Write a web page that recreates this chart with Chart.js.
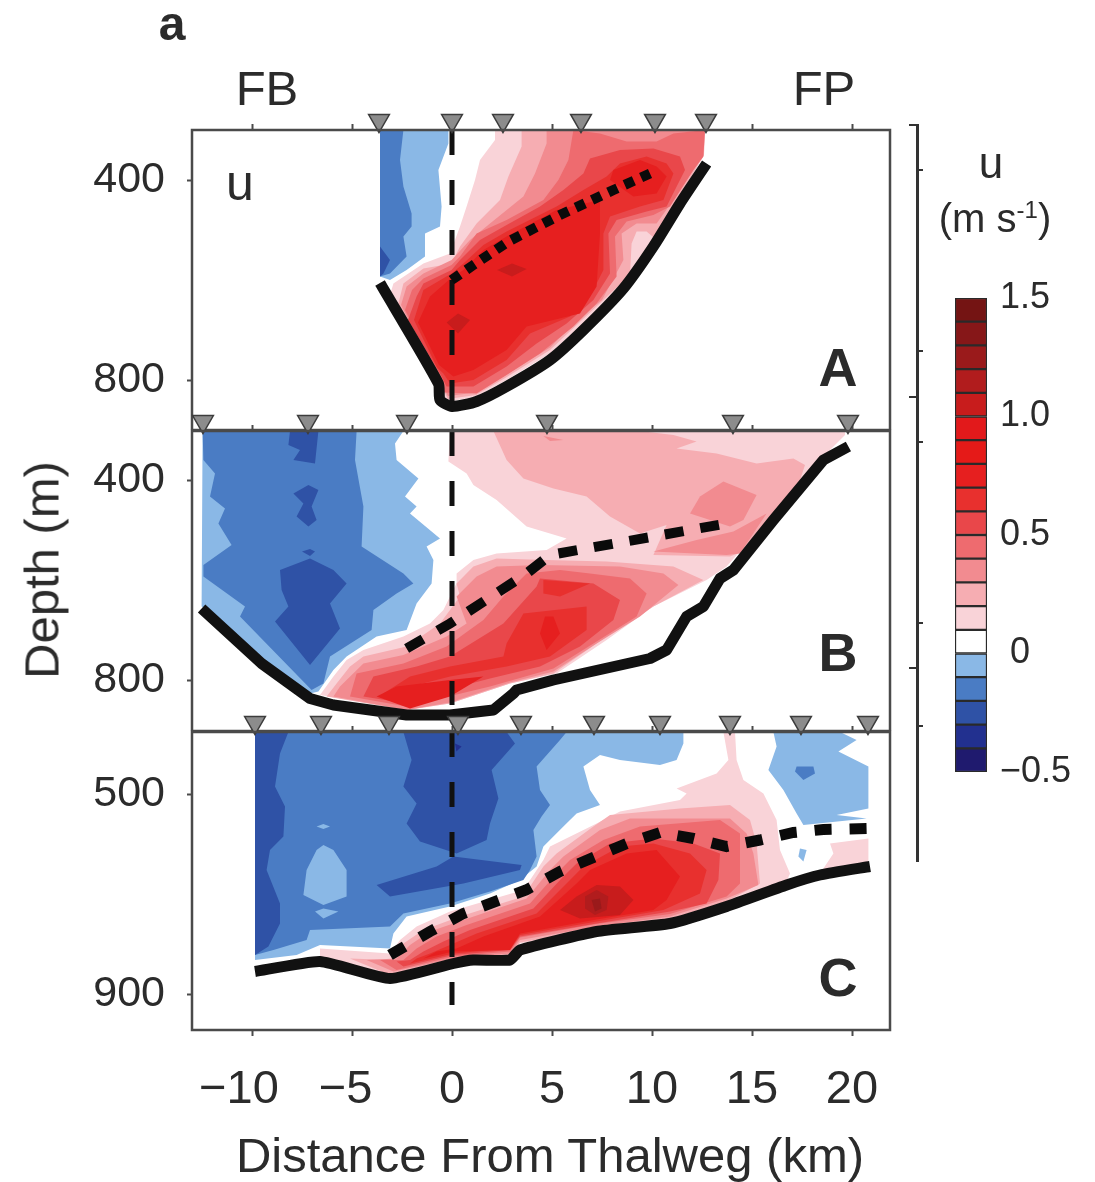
<!DOCTYPE html>
<html>
<head>
<meta charset="utf-8">
<script src="https://cdn.jsdelivr.net/npm/chart.js@4"></script>
<style>
html, body { margin: 0; background: #fff; }
#fig { position: relative; width: 1095px; height: 1182px; overflow: hidden; font-family: "Liberation Sans", sans-serif; color: #2b2b2b; filter: blur(0.7px); }
#fig canvas { position: absolute; }
.lbl { position: absolute; transform: translate(-50%, -50%); white-space: nowrap; line-height: 1; }
.seg { position: absolute; background: #333; }
sup { font-size: 60%; line-height: 0; }
</style>
</head>
<body>
<div id="fig">
  <canvas id="panelA"></canvas>
  <canvas id="panelB"></canvas>
  <canvas id="panelC"></canvas>
  <canvas id="colorbar"></canvas>
  <div class="lbl" style="left:172px;top:24px;font-size:48px;font-weight:bold">a</div>
  <div class="lbl" style="left:267px;top:88px;font-size:49px">FB</div>
  <div class="lbl" style="left:824px;top:88px;font-size:49px">FP</div>
  <div class="lbl" style="left:240px;top:183px;font-size:50px">u</div>
  <div class="lbl" style="left:838px;top:367px;font-size:54px;font-weight:bold">A</div>
  <div class="lbl" style="left:838px;top:652px;font-size:54px;font-weight:bold">B</div>
  <div class="lbl" style="left:838px;top:977px;font-size:54px;font-weight:bold">C</div>
  <div class="lbl" style="left:42px;top:570px;font-size:49px;transform:translate(-50%,-50%) rotate(-90deg)">Depth (m)</div>
  <div class="lbl" style="left:550px;top:1155px;font-size:49px">Distance From Thalweg (km)</div>
  <div class="lbl" style="left:991px;top:163px;font-size:44px">u</div>
  <div class="lbl" style="left:995px;top:218px;font-size:40px">(m s<sup>-1</sup>)</div>
</div>
<script>
// ========== axis ticks
const xTicks = [-10, -5, 0, 5, 10, 15, 20]
const depthTicksA = [400, 800]
const depthTicksB = [400, 800]
const depthTicksC = [500, 900]
const colorTicks = [-0.5, 0, 0.5, 1, 1.5]

// ========== colour levels, lower bound of each class
const levelBounds = [-0.5, -0.4, -0.3, -0.2, -0.1, 0, 0.1, 0.2, 0.3, 0.4, 0.5, 0.6, 0.7, 0.8, 0.9, 1.0, 1.1, 1.2, 1.3, 1.4]
const levelColors = ['#1f1a6e', '#22308f', '#2f52a6', '#4a7cc4', '#8ab8e6', '#ffffff', '#f9d3d8', '#f6adb2', '#f28b90', '#ee6b6f',
  '#e9474a', '#e8302e', '#e61f1f', '#e51a18', '#e2191b', '#c81c1c', '#b11c1d', '#9a1a1b', '#861718', '#741413']

// ========== stations (km)
const stationsA = [-3.65, 0, 2.55, 6.45, 10.15, 12.7]
const stationsB = [-12.45, -7.2, -2.25, 4.75, 14.05, 19.8]
const stationsC = [-9.85, -6.55, -3.15, 0.3, 3.45, 7.1, 10.4, 13.9, 17.45, 20.8]

// ========== bottom and core lines, [km, depth m]
const bottomA = [[-3.6,606],[-0.68,807],[-0.6,840],[0,853],[1.23,843],[2.73,813],[4.9,760],[6.57,700],[8.57,617],[10.07,533],[11.4,447],[12.73,367]]
const coreA = [[-0.02,600],[1.07,570],[2.82,523],[5.4,470],[8.07,420],[9.9,387]]
const bottomB = [[-12.52,657],[-9.52,767],[-7.1,837],[-5.93,850],[-2.27,870],[-0.1,870],[2.07,860],[3.07,827],[3.23,820],[5.07,800],[9.9,757],[10.73,740],[11.73,673],[12.57,653],[13.4,597],[14.07,580],[16.07,480],[18.57,360],[19.82,333]]
const coreB = [[-2.27,737],[-0.1,687],[3.73,587],[4.9,550],[13.73,487]]
const bottomC = [[-9.85,855],[-6.6,835],[-3.1,869],[0.07,839],[1.07,832],[2.9,832],[3.4,812],[7.23,775],[10.9,759],[13.73,725],[16.73,682],[18.4,662],[20.9,645]]
const coreC = [[-3.1,822],[-1.1,775],[0.57,739],[3.7,692],[5.4,655],[8.73,599],[10.4,577],[12.07,589],[13.73,605],[15.4,592],[17.07,577],[18.57,571],[20.73,569]]

// ========== panel A contours
const aBlue1 = [[-3.6,300],[-0.18,300],[-0.18,327],[-0.68,380],[-0.52,453],[-0.6,493],[-1.35,507],[-1.35,553],[-2.27,580],[-3.1,600],[-3.6,593]]
const aBlue2 = [[-3.6,300],[-2.43,300],[-2.6,360],[-2.43,413],[-2.02,467],[-2.02,493],[-2.43,513],[-2.27,553],[-3.1,587],[-3.6,593]]
const aBlue3 = [[-3.6,533],[-3.1,560],[-3.43,587],[-3.6,593]]
const aRed1 = [[2.15,300],[2.15,320],[1.4,360],[1.15,400],[0.73,453],[0.4,493],[-0.1,547],[-1.43,567],[-2.93,607],[-3.1,630],[-0.68,807],[-0.3,845],[0.3,840],[1.23,833],[2.73,800],[4.9,747],[6.57,687],[8.57,603],[10.07,520],[11.4,433],[12.57,353],[12.65,300]]
const aRed2 = [[3.48,300],[3.48,333],[2.82,393],[2.4,440],[1.23,487],[0.4,533],[-0.02,567],[-1.43,577],[-2.43,607],[-2.7,650],[-0.7,800],[-0.2,838],[1.2,830],[2.7,795],[4.9,740],[6.5,680],[8.9,590],[8.98,527],[9.23,503],[9.73,503],[10.23,520],[11.4,430],[12.6,350],[12.65,300]]
const aRed3 = [[4.73,300],[4.73,327],[4.15,387],[3.57,433],[1.9,487],[0.9,520],[-0.02,560],[-1.43,587],[-2.27,613],[-2.55,650],[-0.7,795],[-0.2,832],[1.2,825],[2.7,790],[4.9,735],[6.4,675],[7.5,640],[8.57,560],[8.48,507],[9.23,487],[10.23,487],[11.07,440],[12.4,360],[12.65,300]]
const aRed4 = [[6.07,300],[7.4,307],[8.73,323],[10.23,323],[11.07,307],[12.65,300],[12.57,353],[12.07,380],[10.9,453],[10.07,470],[8.73,483],[8.15,513],[8.23,593],[7.23,647],[6.07,693],[4.4,747],[2.73,790],[1.23,827],[-0.4,825],[-0.68,800],[-0.9,773],[-2.35,660],[-2,620],[-1.43,597],[-0.02,570],[0.4,553],[1.23,507],[2.73,480],[4.57,440],[5.32,400],[5.82,360]]
const aRed5 = [[11.4,353],[10.07,337],[8.4,340],[6.9,357],[6.57,387],[5.57,420],[4.4,453],[2.73,490],[1.4,520],[0.4,560],[-0.02,580],[-1.43,607],[-1.77,633],[-2.2,680],[-0.85,770],[-0.6,787],[-0.27,813],[1.07,813],[2.73,773],[4.23,727],[5.73,687],[7.07,640],[7.9,587],[7.82,507],[8.23,480],[9.73,463],[10.73,453],[11.65,380]]
const aRed6 = [[10.73,367],[9.73,353],[8.4,367],[7.73,393],[6.57,420],[5.23,453],[2.73,503],[1.57,530],[0.57,567],[-0.02,587],[-1.43,620],[-1.9,680],[-0.75,775],[-0.43,787],[-0.1,807],[1.07,800],[2.73,760],[3.9,707],[5.9,673],[6.9,633],[7.57,580],[7.57,507],[7.9,473],[9.4,453],[10.57,440],[11.07,387]]
const aRed7 = [[7.4,440],[5.23,460],[2.73,513],[1.57,540],[0.57,580],[-0.02,595],[-1.1,633],[-1.7,685],[-0.65,770],[0.07,793],[1.07,780],[2.73,740],[3.73,693],[6.4,667],[7.23,613],[7.4,507]]
const aRed7b = [[10.23,373],[9.4,360],[8.07,380],[7.9,400],[9.07,433],[10.23,427],[10.73,393]]
const aSpot1 = [[2.25,580],[3,567],[3.73,578],[3,593]]
const aSpot2 = [[-0.27,685],[0.3,667],[0.9,680],[0.3,707]]

// ========== panel B contours
const bBlue1 = [[-12.47,302],[-2.43,302],[-2.85,327],[-2.77,360],[-1.68,397],[-2.35,433],[-1.77,453],[-2.1,467],[-0.6,517],[-1.27,533],[-0.93,560],[-1.02,607],[-1.77,647],[-2.27,700],[-3.77,713],[-5.27,753],[-5.93,780],[-6.68,823],[-7.1,827],[-9.52,760],[-12.52,653]]
const bBlue2 = [[-12.47,302],[-4.77,302],[-4.85,360],[-4.43,453],[-4.52,533],[-2.43,587],[-1.93,607],[-2.77,627],[-3.93,660],[-4.02,700],[-6.1,753],[-6.43,807],[-7.02,820],[-10.6,673],[-10.35,653],[-12.43,593],[-12.43,570],[-11.02,530],[-11.68,487],[-11.35,457],[-12.1,433],[-11.85,387],[-12.43,360]]
const bBlue3a = [[-7.1,557],[-5.93,580],[-5.27,607],[-6.1,647],[-5.6,697],[-7.1,770],[-8.85,683],[-8.18,653],[-8.52,620],[-8.6,580]]
const bBlue3b = [[-7.18,410],[-6.68,420],[-7.02,453],[-6.77,480],[-7.18,493],[-7.77,473],[-7.43,447],[-7.93,427]]
const bBlue3c = [[-8.1,302],[-6.68,302],[-6.85,367],[-7.93,360],[-7.6,340],[-8.18,330]]
const bBlue3d = [[-7.5,543],[-7.1,538],[-6.85,543],[-7.1,552]]
const bRed1 = [[-0.1,302],[19.65,302],[19.65,310],[18.4,360],[16.07,467],[13.73,573],[12.73,600],[10.07,653],[7.73,720],[5.23,787],[2.9,807],[-0.1,847],[-2.27,860],[-6.6,830],[-5.93,793],[-5.27,760],[-4.43,740],[-2.43,713],[-1.1,687],[-0.43,660],[0.22,607],[0.23,587],[1.07,560],[2.23,547],[4.73,540],[5.73,517],[3.73,493],[2.23,440],[1.07,410],[0.73,387],[-0.18,363]]
const bRed2a = [[2.07,302],[9.4,302],[11.07,310],[12.23,323],[11.23,337],[13.23,347],[15.23,367],[17.07,357],[17.65,370],[17.4,400],[16.07,473],[14.73,540],[13.9,553],[10.07,550],[10.73,490],[9.4,507],[7.9,473],[6.73,433],[5.07,417],[3.57,397],[2.73,360]]
const bRed2b = [[4.73,560],[2.23,557],[1.07,573],[0.23,607],[0.4,633],[-0.6,687],[-2.27,733],[-4.43,753],[-5.1,773],[-5.77,807],[-6.27,833],[-2.27,860],[-0.1,847],[2.9,807],[5.07,787],[7.73,713],[10.07,653],[12.57,600],[11.07,573],[7.73,563]]
const bRed3a = [[13.57,403],[15.23,430],[14.57,480],[13.9,493],[11.9,467],[12.4,433]]
const bRed3b = [[10.07,543],[12.23,520],[14.07,503],[15.73,467],[14.4,547],[13.73,550]]
const bRed3c = [[4.57,312],[5.57,320],[4.9,322]]
const bRed3d = [[4.4,570],[2.23,573],[1.23,593],[0.23,633],[0.73,687],[-0.27,713],[-2.43,750],[-4.43,767],[-5.6,813],[-5.93,833],[-2.27,860],[-0.1,845],[2.9,805],[5.07,783],[7.23,727],[9.4,673],[11.32,610],[10.57,587],[8.4,573]]
const bRed4 = [[8.9,597],[9.73,627],[9.23,673],[7.07,727],[5.07,777],[1.9,813],[-0.6,837],[-2.27,853],[-5.1,833],[-4.77,787],[-2.43,767],[-0.27,733],[1.57,680],[2.57,633],[3.73,587],[5.4,580],[6.9,587]]
const bRed5 = [[4.4,597],[7.07,607],[8.4,640],[8.07,680],[6.4,733],[4.4,773],[1.9,797],[-0.6,823],[-2.27,847],[-4.43,833],[-3.93,793],[-1.77,773],[-0.1,753],[2.57,687],[4.23,613]]
const bRed6a = [[3.57,667],[6.73,653],[6.73,700],[4.9,753],[2.73,773],[-0.1,793],[-3.43,827],[-2.1,793],[-0.1,773],[2.57,753],[2.73,727]]
const bRed6b = [[4.57,600],[6.9,607],[5.4,633],[4.57,627]]
const bRed7a = [[-3.77,833],[-2.77,813],[-0.1,800],[1.57,793],[-0.1,833],[-2.1,857]]
const bRed7b = [[5.07,673],[5.4,707],[4.73,740],[4.4,707],[4.65,673]]

// ========== panel C contours
const cBlue1 = [[-9.85,376],[11.57,376],[11.57,399],[11.23,432],[10.4,442],[8.4,432],[7.4,422],[6.57,445],[6.9,492],[7.4,522],[6.23,539],[5.57,565],[4.57,605],[4.23,645],[3.4,672],[1.9,699],[-0.1,725],[-2.27,745],[-2.93,779],[-3.1,809],[-6.6,802],[-7.77,822],[-9.85,832]]
const cBlue1b = [[16.07,376],[19.4,376],[20.23,392],[19.32,415],[20.82,445],[20.82,529],[19.23,542],[20.73,549],[17.57,562],[17.23,539],[16.57,492],[15.82,452],[16.23,405]]
const cBlue1c = [[17.4,609],[17.73,612],[17.57,635],[17.32,625]]
const cBlue2 = [[-9.85,376],[5.73,376],[5.4,392],[4.23,445],[4.4,492],[4.9,522],[4.48,545],[4.07,572],[4.23,625],[3.9,652],[3.57,672],[1.9,695],[-0.1,719],[-2.43,739],[-3.1,765],[-7.1,772],[-7.27,792],[-8.93,812],[-9.85,822]]
const cBlue2b = [[17.23,445],[18.07,445],[18.15,459],[17.57,472],[17.15,455]]
const cLight1 = [[-6.43,602],[-5.93,612],[-5.27,652],[-5.27,705],[-6.43,722],[-7.43,702],[-7.27,652],[-6.77,612]]
const cLight2 = [[-6.77,565],[-6.43,560],[-6.1,565],[-6.43,570]]
const cLight3 = [[-6.85,735],[-6.43,729],[-5.68,735],[-6.43,749]]
const cBlue3a = [[-9.85,376],[-8.18,376],[-8.6,419],[-8.85,485],[-8.35,525],[-8.43,585],[-9.1,612],[-9.27,652],[-8.6,719],[-8.6,759],[-9.18,805],[-9.85,822]]
const cBlue3b = [[-2.43,376],[2.73,376],[3.15,399],[1.98,452],[2.32,509],[1.9,559],[1.73,592],[0.23,619],[-1.6,595],[-2.27,559],[-1.77,519],[-2.43,485],[-2.02,432]]
const cBlue3c = [[-3.77,682],[-0.77,645],[0.07,625],[3.48,642],[3.4,652],[0.57,679],[-3.1,705]]
const cBlue4 = [[0.15,399],[0.48,405],[0.22,415]]
const cRed1 = [[-6.6,809],[-3.1,819],[-2.6,792],[-1.77,765],[-0.1,735],[3.57,692],[4.57,632],[4.9,605],[7.23,559],[8.4,535],[11.4,512],[11.73,499],[11.23,489],[13.23,459],[13.82,432],[13.57,376],[14.15,376],[14.23,432],[14.57,472],[15.57,499],[16.23,552],[16.4,612],[16.9,659],[16.73,675],[13.73,719],[10.9,752],[7.23,772],[3.4,799],[2.9,825],[0.07,835],[-3.1,865],[-6.6,829]]
const cRed1b = [[18.9,599],[20.82,589],[20.82,639],[18.4,659],[19.07,619]]
const cRed2 = [[7.07,565],[7.9,542],[11.4,529],[13.9,522],[14.9,552],[15.23,599],[15.4,679],[13.73,715],[10.9,750],[7.23,770],[3.4,797],[2.9,823],[0.07,833],[-3.1,862],[-5.1,829],[-3.1,832],[-2.43,799],[-1.43,772],[0.4,745],[3.57,705],[4.57,645],[5.23,619]]
const cRed3 = [[7.4,572],[8.9,549],[13.9,549],[14.73,579],[15.07,619],[15.32,682],[13.73,709],[10.9,745],[7.23,765],[3.4,792],[2.9,819],[0.07,829],[-2.93,855],[-4.27,832],[-2.77,829],[-2.1,802],[-1.1,775],[0.57,752],[3.73,709],[4.9,652],[5.57,625]]
const cRed4 = [[9.4,565],[13.4,552],[14.4,579],[14.4,679],[13.73,705],[10.9,740],[7.23,760],[3.4,787],[2.9,815],[0.07,825],[-2.77,852],[-3.6,832],[-2.43,832],[-1.77,809],[-0.77,785],[0.73,762],[3.9,719],[5.23,659],[5.9,632],[7.57,592]]
const cRed5 = [[7.9,599],[10.07,589],[12.07,599],[13.4,619],[13.32,672],[12.73,719],[10.9,735],[7.23,759],[3.4,785],[2.9,812],[0.07,822],[-2.43,845],[-2.77,835],[-2.1,832],[-1.43,815],[-0.43,795],[0.9,772],[4.07,729],[5.57,665],[6.23,639]]
const cRed6 = [[8.4,605],[10.07,599],[11.9,619],[12.73,652],[12.4,699],[10.57,732],[7.23,755],[3.4,782],[2.9,809],[0.07,819],[-2.1,839],[-1.77,829],[-1.1,819],[-0.1,802],[1.23,779],[4.23,739],[5.9,672],[6.57,645]]
const cRed7 = [[8.73,619],[10.23,612],[11.4,665],[10.73,712],[10.07,732],[7.23,751],[3.4,779],[2.9,812],[0.07,815],[-1.43,829],[-0.77,815],[0.23,809],[1.57,785],[4.4,745],[6.23,679],[6.9,652]]
const cCore1 = [[6.23,705],[7.23,682],[8.4,685],[9.07,712],[8.4,742],[6.4,749],[5.4,732]]
const cCore2 = [[6.65,705],[7.23,692],[7.82,705],[7.73,732],[7.15,742],[6.65,729]]
const cCore3 = [[6.98,712],[7.4,709],[7.48,729],[7.15,735]]

// ========== bracket right of the panels, pixel rows
const bracketRight = [169, 350, 441, 622, 725]
const bracketLeft = [124, 396, 667]

// paint order per panel, lowest first: [polygon, class lower bound]
const contoursA = [[aBlue1,-0.1],[aBlue2,-0.2],[aBlue3,-0.3],[aRed1,0.1],[aRed2,0.2],[aRed3,0.3],[aRed4,0.4],[aRed5,0.5],[aRed6,0.6],[aRed7,0.7],[aRed7b,0.7],[aSpot1,1.0],[aSpot2,1.0]]
const contoursB = [[bBlue1,-0.1],[bBlue2,-0.2],[bBlue3a,-0.3],[bBlue3b,-0.3],[bBlue3c,-0.3],[bBlue3d,-0.3],[bRed1,0.1],[bRed2a,0.2],[bRed2b,0.2],[bRed3a,0.3],[bRed3b,0.3],[bRed3c,0.3],[bRed3d,0.3],[bRed4,0.4],[bRed5,0.5],[bRed6a,0.6],[bRed6b,0.6],[bRed7a,0.7],[bRed7b,0.7]]
const contoursC = [[cBlue1,-0.1],[cBlue1b,-0.1],[cBlue1c,-0.1],[cBlue2,-0.2],[cBlue2b,-0.2],[cLight1,-0.1],[cLight2,-0.1],[cLight3,-0.1],[cBlue3a,-0.3],[cBlue3b,-0.3],[cBlue3c,-0.3],[cBlue4,-0.4],[cRed1,0.1],[cRed1b,0.1],[cRed2,0.2],[cRed3,0.3],[cRed4,0.4],[cRed5,0.5],[cRed6,0.6],[cRed7,0.7],[cCore1,1.0],[cCore2,1.1],[cCore3,1.2]]


// ========== helpers
const AXIS_COLOR = '#4a4a4a'
const TEXT_COLOR = '#2b2b2b'
const TICK_FONT = { family: '"Liberation Sans", sans-serif', size: 43 }
const X_TICK_FONT = { family: '"Liberation Sans", sans-serif', size: 47 }

function shade(bound){
	return levelColors[levelBounds.findIndex(b => Math.abs(b - bound) < 0.01)]
}

// draws the box round the plot
const framePlugin = {
	id: 'frame',
	afterDatasetsDraw(chart){
		const a = chart.chartArea
		const ctx = chart.ctx
		ctx.save()
		ctx.strokeStyle = AXIS_COLOR
		ctx.lineWidth = 2.5
		ctx.strokeRect(a.left, a.top, a.right - a.left, a.bottom - a.top)
		ctx.restore()
	}
}

function xAxis(position, showLabels){
	return {
		type: 'linear',
		position: position,
		min: -13,
		max: 21.9,
		afterBuildTicks: s => { s.ticks = xTicks.map(v => ({ value: v })) },
		afterFit: s => { s.height = position === 'top' ? 30 : 120; s.paddingLeft = 0; s.paddingRight = 0 },
		border: { display: false },
		grid: { drawOnChartArea: false, tickLength: 6, tickColor: AXIS_COLOR, tickWidth: 2 },
		ticks: {
			display: showLabels,
			maxRotation: 0,
			padding: 26,
			color: TEXT_COLOR,
			font: X_TICK_FONT,
			// trailing spaces pull the minus labels left of their tick, as printed
			callback: v => v < 0 ? String(v).replace('-', '\u2212') + (v === -10 ? '  ' : ' ') : String(v)
		}
	}
}

function makePanel(id, cfg){
	const cvs = document.getElementById(id)
	const plotHeight = cfg.bottomPx - cfg.topPx
	const extra = cfg.lastPanel ? 120 : 0
	cvs.width = 900
	cvs.height = 30 + plotHeight + extra
	cvs.style.left = '0px'
	cvs.style.top = (cfg.topPx - 30) + 'px'

	let sets = cfg.contours.map(c => ({
		data: c[0],
		showLine: true,
		fill: 'shape',
		backgroundColor: shade(c[1]),
		borderWidth: 0,
		pointRadius: 0
	}))
	sets.push({ data: cfg.bottom, showLine: true, borderColor: '#111', borderWidth: 11, borderJoinStyle: 'round', tension: cfg.bottomTension, pointRadius: 0 })
	sets.push({ data: [[0, cfg.minDepth], [0, cfg.dashEnd]], showLine: true, borderColor: '#111', borderWidth: 5, borderDash: [25, 25], pointRadius: 0 })
	sets.push({ data: cfg.core, showLine: true, borderColor: '#0a0a0a', borderWidth: cfg.coreWidth, borderDash: cfg.coreDash, pointRadius: 0 })
	sets.push({
		data: cfg.stations.map(x => [x, cfg.minDepth - 19]),
		clip: false,
		pointStyle: 'triangle',
		rotation: 180,
		radius: 12,
		backgroundColor: '#8c8c8c',
		borderColor: '#3c3c3c',
		borderWidth: 1.5
	})
	// first dataset is painted last, so flip
	sets.reverse()

	const scales = {
		x: xAxis('top', false),
		y: {
			type: 'linear',
			reverse: true,
			min: cfg.minDepth,
			max: cfg.maxDepth,
			afterBuildTicks: s => { s.ticks = cfg.depthTicks.map(v => ({ value: v })) },
			afterFit: s => { s.width = 192; s.paddingTop = 0; s.paddingBottom = 0 },
			border: { display: false },
			grid: { drawOnChartArea: false, tickLength: 5, tickColor: AXIS_COLOR, tickWidth: 2 },
			ticks: { padding: 22, color: TEXT_COLOR, font: TICK_FONT }
		}
	}
	if (cfg.lastPanel) scales.xb = xAxis('bottom', true)

	return new Chart(cvs.getContext('2d'), {
		type: 'scatter',
		data: { datasets: sets },
		options: {
			responsive: false,
			animation: false,
			events: [],
			layout: { autoPadding: false, padding: { right: 10 } },
			plugins: { legend: { display: false }, tooltip: { enabled: false } },
			scales: scales
		},
		plugins: [framePlugin]
	})
}

function makeColorbar(){
	const cvs = document.getElementById('colorbar')
	cvs.width = 140
	cvs.height = 530
	cvs.style.left = '955px'
	cvs.style.top = '273px'
	new Chart(cvs.getContext('2d'), {
		type: 'bar',
		data: {
			labels: ['u'],
			datasets: levelBounds.map((b, i) => ({
				data: [[b, i === levelBounds.length - 1 ? 1.5 : levelBounds[i + 1]]],
				backgroundColor: levelColors[i],
				borderColor: '#2a2a2a',
				borderWidth: 1.5,
				borderSkipped: false,
				grouped: false,
				categoryPercentage: 1,
				barPercentage: 1
			}))
		},
		options: {
			responsive: false,
			animation: false,
			events: [],
			layout: { padding: { top: 25, bottom: 31 } },
			plugins: { legend: { display: false }, tooltip: { enabled: false } },
			scales: {
				x: { display: false },
				y: {
					position: 'right',
					min: -0.5,
					max: 1.5,
					afterBuildTicks: s => { s.ticks = colorTicks.map(v => ({ value: v })) },
					afterFit: s => { s.width = 108; s.paddingTop = 0; s.paddingBottom = 0 },
					border: { display: false },
					grid: { display: false, drawTicks: false },
					ticks: {
						padding: 13,
						color: TEXT_COLOR,
						font: { family: '"Liberation Sans", sans-serif', size: 36 },
						callback: v => v === 0 ? ' 0' : v < 0 ? '\u22120.5' : v.toFixed(1)
					}
				}
			}
		}
	})
}

function addSeg(l, t, w, h){
	const d = document.createElement('div')
	d.className = 'seg'
	d.style.cssText = `left:${l}px;top:${t}px;width:${w}px;height:${h}px`
	document.getElementById('fig').appendChild(d)
}

function makeBracket(){
	addSeg(916, 124, 2.5, 738)
	bracketRight.forEach(y => addSeg(916, y, 7, 2))
	bracketLeft.forEach(y => addSeg(909, y, 8, 2))
}


// ========== draw
makePanel('panelC', { topPx: 732, bottomPx: 1030, minDepth: 376, maxDepth: 972, depthTicks: depthTicksC, contours: contoursC, bottom: bottomC, bottomTension: 0.15, core: coreC, coreWidth: 11, coreDash: [17, 18], stations: stationsC, dashEnd: 922, lastPanel: true })
makePanel('panelB', { topPx: 431, bottomPx: 731, minDepth: 302, maxDepth: 902, depthTicks: depthTicksB, contours: contoursB, bottom: bottomB, bottomTension: 0, core: coreB, coreWidth: 10, coreDash: [19, 17], stations: stationsB, dashEnd: 850 })
makePanel('panelA', { topPx: 130, bottomPx: 430, minDepth: 300, maxDepth: 900, depthTicks: depthTicksA, contours: contoursA, bottom: bottomA, bottomTension: 0.2, core: coreA, coreWidth: 10, coreDash: [10, 8], stations: stationsA, dashEnd: 850 })
makeColorbar()
makeBracket()
</script>
</body>
</html>
